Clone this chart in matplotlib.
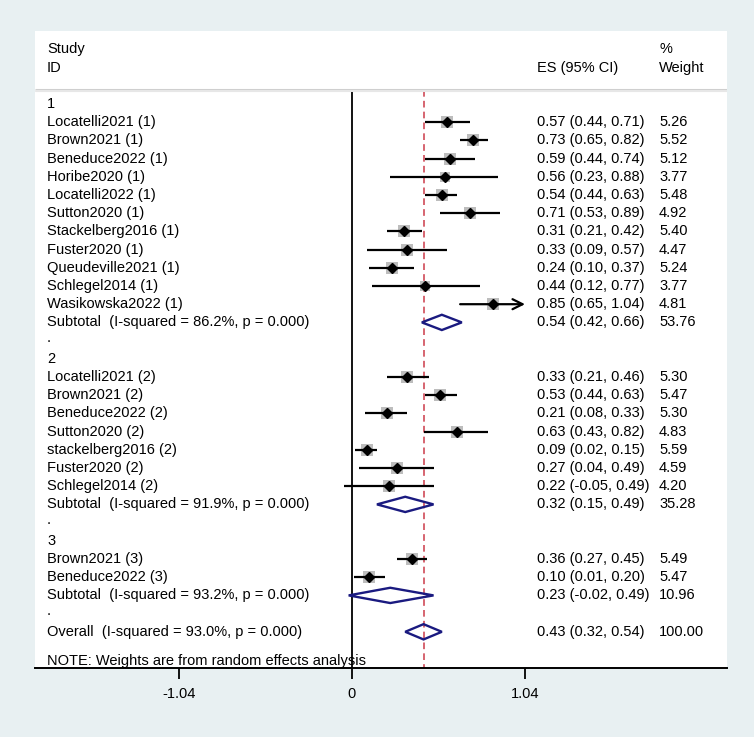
import matplotlib
matplotlib.use("Agg")
import matplotlib.pyplot as plt
from matplotlib.patches import Polygon
import matplotlib.transforms as mtransforms

# ---------------- data ----------------
group_labels = ["1", "2", "3"]

g1_names = ["Locatelli2021 (1)", "Brown2021 (1)", "Beneduce2022 (1)", "Horibe2020 (1)",
            "Locatelli2022 (1)", "Sutton2020 (1)", "Stackelberg2016 (1)", "Fuster2020 (1)",
            "Queudeville2021 (1)", "Schlegel2014 (1)", "Wasikowska2022 (1)"]
g1_es = [0.57, 0.73, 0.59, 0.56, 0.54, 0.71, 0.31, 0.33, 0.24, 0.44, 0.85]
g1_lo = [0.44, 0.65, 0.44, 0.23, 0.44, 0.53, 0.21, 0.09, 0.10, 0.12, 0.65]
g1_hi = [0.71, 0.82, 0.74, 0.88, 0.63, 0.89, 0.42, 0.57, 0.37, 0.77, 1.04]
g1_w = [5.26, 5.52, 5.12, 3.77, 5.48, 4.92, 5.40, 4.47, 5.24, 3.77, 4.81]

g2_names = ["Locatelli2021 (2)", "Brown2021 (2)", "Beneduce2022 (2)", "Sutton2020 (2)",
            "stackelberg2016 (2)", "Fuster2020 (2)", "Schlegel2014 (2)"]
g2_es = [0.33, 0.53, 0.21, 0.63, 0.09, 0.27, 0.22]
g2_lo = [0.21, 0.44, 0.08, 0.43, 0.02, 0.04, -0.05]
g2_hi = [0.46, 0.63, 0.33, 0.82, 0.15, 0.49, 0.49]
g2_w = [5.30, 5.47, 5.30, 4.83, 5.59, 4.59, 4.20]

g3_names = ["Brown2021 (3)", "Beneduce2022 (3)"]
g3_es = [0.36, 0.10]
g3_lo = [0.27, 0.01]
g3_hi = [0.45, 0.20]
g3_w = [5.49, 5.47]

sub_es = [0.54, 0.32, 0.23]
sub_lo = [0.42, 0.15, -0.02]
sub_hi = [0.66, 0.49, 0.49]
sub_w = [53.76, 35.28, 10.96]
sub_i2 = [86.2, 91.9, 93.2]

overall_es = 0.43
overall_lo = 0.32
overall_hi = 0.54
overall_w = 100.00
overall_i2 = 93.0

tick_values = [-1.04, 0, 1.04]
tick_labels = ["-1.04", "0", "1.04"]

# ---------------- styling ----------------
W, H, DPI = 754, 737, 100
BG = "#e8f0f2"
NAVY = "#1a1a80"
RED = "#d04a58"
GREY_BOX = "#bdbdbd"
FS = 10.5
plt.rcParams["font.family"] = ["Liberation Sans", "DejaVu Sans"]

fig = plt.figure(figsize=(W / DPI, H / DPI), dpi=DPI, facecolor=BG)
px_l, px_r, px_t, px_b = 35, 727, 31, 668
ax = fig.add_axes([px_l / W, (H - px_b) / H, (px_r - px_l) / W, (px_b - px_t) / H])
ax.set_facecolor("white")

# x scale: 0 at px 352, 1.04 at px 525
x0_px, x1_px = 352, 525
ppu = (x1_px - x0_px) / 1.04
ax.set_xlim((px_l - x0_px) / ppu, (px_r - x0_px) / ppu)
# y scale in rows: row 0 at px 104, spacing 18.2
row0, rowh = 104, 18.2
ax.set_ylim((px_b - row0) / rowh, (px_t - row0) / rowh)

for s in ["top", "left", "right"]:
    ax.spines[s].set_visible(False)
ax.spines["bottom"].set_linewidth(1.4)
ax.set_yticks([])
ax.set_xticks(tick_values)
ax.set_xticklabels(tick_labels, fontsize=FS)
ax.tick_params(axis="x", direction="out", length=8, width=1.3, pad=6)

ybot = ax.get_ylim()[0]
sep_y = (90 - row0) / rowh

tx = mtransforms.blended_transform_factory(ax.transAxes, ax.transData)
x_lab = (47 - px_l) / (px_r - px_l)
x_es = (537 - px_l) / (px_r - px_l)
x_w = (659 - px_l) / (px_r - px_l)

# header
ax.text(x_lab, -3.0, "Study", transform=tx, fontsize=FS, va="center", ha="left")
ax.text(x_lab, -2.0, "ID", transform=tx, fontsize=FS, va="center", ha="left")
ax.text(x_es, -2.0, "ES (95% CI)", transform=tx, fontsize=FS, va="center", ha="left")
ax.text(x_w, -3.0, "%", transform=tx, fontsize=FS, va="center", ha="left")
ax.text(x_w, -2.0, "Weight", transform=tx, fontsize=FS, va="center", ha="left")
ax.plot([0, 1], [sep_y, sep_y], transform=tx, color="#cfcfcf", lw=2.2, zorder=3,
        solid_capstyle="butt")
ax.plot([0, 1], [sep_y + 0.07, sep_y + 0.07], transform=tx, color="#ececec", lw=1.2, zorder=3,
        solid_capstyle="butt")

# reference lines
ax.plot([0, 0], [sep_y, ybot], color="black", lw=1.3, zorder=2)
ax.plot([overall_es, overall_es], [sep_y, ybot], color=RED, lw=1.2, ls=(0, (4, 2.5)), zorder=2)


def study_row(y, name, es, lo, hi, w, xmax):
    ax.text(x_lab, y, name, transform=tx, fontsize=FS, va="center", ha="left")
    ax.text(x_es, y, f"{es:.2f} ({lo:.2f}, {hi:.2f})", transform=tx, fontsize=FS, va="center", ha="left")
    ax.text(x_w, y, f"{w:.2f}", transform=tx, fontsize=FS, va="center", ha="left")
    ax.scatter([es], [y], marker="s", s=15 * w, color=GREY_BOX, linewidths=0, zorder=3)
    if hi >= xmax:
        ax.annotate("", xy=(hi, y), xytext=(lo, y),
                    arrowprops=dict(arrowstyle="->", lw=1.6, color="black",
                                    mutation_scale=18, shrinkA=0, shrinkB=0), zorder=4)
    else:
        ax.plot([lo, hi], [y, y], color="black", lw=1.6, zorder=4, solid_capstyle="butt")
    ax.plot([es], [y], marker="D", ms=5.2, color="black", zorder=5)


def diamond_row(y, label, es, lo, hi, w):
    ax.text(x_lab, y, label, transform=tx, fontsize=FS, va="center", ha="left")
    ax.text(x_es, y, f"{es:.2f} ({lo:.2f}, {hi:.2f})", transform=tx, fontsize=FS, va="center", ha="left")
    ax.text(x_w, y, f"{w:.2f}", transform=tx, fontsize=FS, va="center", ha="left")
    h = 0.42
    ax.add_patch(Polygon([(lo, y), (es, y - h), (hi, y), (es, y + h)], closed=True,
                         fill=False, edgecolor=NAVY, lw=1.7, zorder=5))


groups = [
    (g1_names, g1_es, g1_lo, g1_hi, g1_w),
    (g2_names, g2_es, g2_lo, g2_hi, g2_w),
    (g3_names, g3_es, g3_lo, g3_hi, g3_w),
]
xmax = tick_values[-1]
y = 0
for gi, (names, es, lo, hi, w) in enumerate(groups):
    ax.text(x_lab, y, group_labels[gi], transform=tx, fontsize=FS, va="center", ha="left")
    y += 1
    for k in range(len(names)):
        study_row(y, names[k], es[k], lo[k], hi[k], w[k], xmax)
        y += 1
    diamond_row(y, f"Subtotal  (I-squared = {sub_i2[gi]:.1f}%, p = 0.000)",
                sub_es[gi], sub_lo[gi], sub_hi[gi], sub_w[gi])
    y += 1
    ax.text(x_lab, y - 0.15, ".", transform=tx, fontsize=FS, va="center", ha="left")
    y += 1

diamond_row(y, f"Overall  (I-squared = {overall_i2:.1f}%, p = 0.000)",
            overall_es, overall_lo, overall_hi, overall_w)
ax.text(x_lab, y + 1.6, "NOTE: Weights are from random effects analysis", transform=tx,
        fontsize=FS, va="center", ha="left")

fig.savefig("out.png", dpi=DPI, facecolor=BG)
